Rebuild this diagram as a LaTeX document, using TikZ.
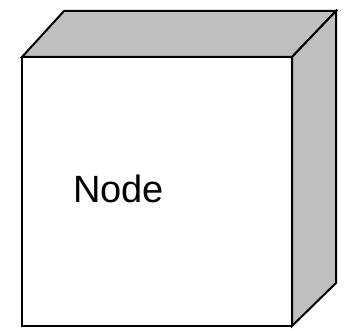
\documentclass[tikz,border=0pt]{standalone}
\usepackage{fontspec}
\setmainfont{Liberation Sans}
\tikzset{
  edge/.style={draw=black, line width=2pt, line join=miter},
  side/.style={edge, fill=gray!50},
  front/.style={edge, fill=white},
  lbl/.style={inner sep=0pt, font=\fontsize{38}{40}\selectfont}
}
\begin{document}
\begin{tikzpicture}[x=1pt,y=-1pt]
\useasboundingbox (0,0) rectangle (346,331);
\coordinate (fa) at (22,57);
\coordinate (fb) at (292,57);
\coordinate (fc) at (292,326);
\coordinate (fd) at (22,326);
\coordinate (ba) at (64,11);
\coordinate (bb) at (336,11);
\coordinate (bc) at (336,283);
\path[side] (fa) -- (ba) -- (bb) -- (fb) -- cycle;
\path[side] (fb) -- (bb) -- (bc) -- (fc) -- cycle;
\path[front] (fa) rectangle (fc);
\node[lbl, anchor=base west] (n) at (73,203) {Node};
\end{tikzpicture}
\end{document}
